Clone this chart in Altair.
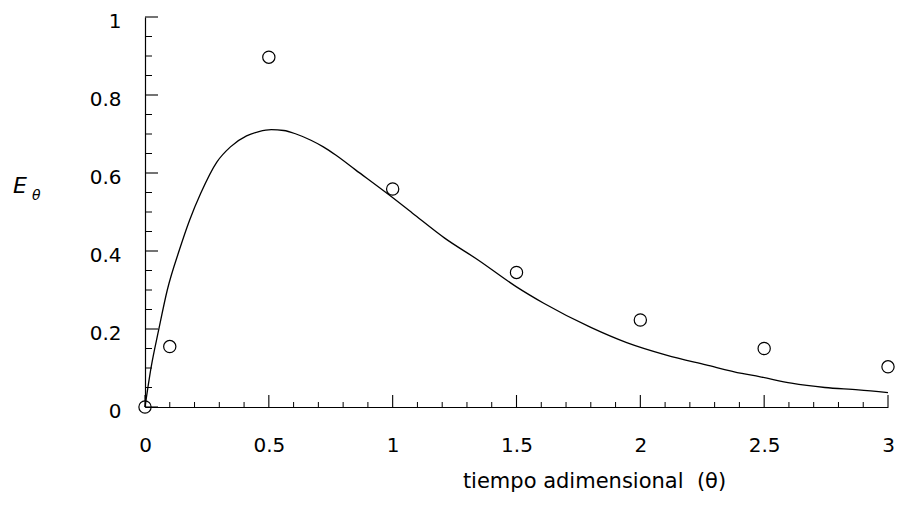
import altair as alt
import pandas as pd

# Model curve
curve_theta = [0, 0.025, 0.055, 0.09, 0.14, 0.18, 0.225, 0.29, 0.345, 0.41, 0.46, 0.51,
               0.56, 0.61, 0.67, 0.72, 0.77, 0.85, 0.985, 1.08, 1.21, 1.345, 1.5, 1.61,
               1.8, 1.945, 2.105, 2.265, 2.41, 2.48, 2.61, 2.745, 2.88, 3.0]
curve_E = [0, 0.103, 0.197, 0.30, 0.405, 0.479, 0.548, 0.628, 0.667, 0.695, 0.706, 0.711,
           0.709, 0.700, 0.684, 0.667, 0.646, 0.608, 0.544, 0.497, 0.433, 0.377, 0.308, 0.266,
           0.204, 0.165, 0.133, 0.108, 0.086, 0.078, 0.061, 0.050, 0.044, 0.037]

# Experimental points
pts_theta = [0, 0.1, 0.5, 1.0, 1.5, 2.0, 2.5, 3.0]
pts_E = [0, 0.155, 0.897, 0.559, 0.345, 0.223, 0.150, 0.103]

# Tick values
x_major = [0, 0.5, 1, 1.5, 2, 2.5, 3]
x_minor = [0.1, 0.2, 0.3, 0.4, 0.6, 0.7, 0.8, 0.9, 1.1, 1.2, 1.3, 1.4, 1.6, 1.7, 1.8, 1.9,
           2.1, 2.2, 2.3, 2.4, 2.6, 2.7, 2.8, 2.9]
y_major = [0, 0.2, 0.4, 0.6, 0.8, 1.0]
y_minor = [0.05, 0.1, 0.15, 0.25, 0.3, 0.35, 0.45, 0.5, 0.55, 0.65, 0.7, 0.75, 0.85, 0.9, 0.95]

W, H = 743, 390
FONT = "DejaVu Sans"

xscale = alt.Scale(domain=[0, 3], nice=False, zero=False)
yscale = alt.Scale(domain=[0, 1], nice=False, zero=False)

xaxis = alt.Axis(values=x_major, format="~g", ticks=False, tickSize=0, grid=False,
                 domainColor="black", domainWidth=1.2, labelFont=FONT, labelFontSize=20,
                 labelColor="black", labelPadding=28, labelFlush=False,
                 title="tiempo adimensional \u00a0(\u03b8)", titleFont=FONT, titleFontSize=21,
                 titleFontWeight="normal", titleColor="black", titleX=449, titleY=80,
                 titleAlign="center", titleBaseline="alphabetic")
yaxis = alt.Axis(values=y_major, format="~g", ticks=False, tickSize=0, grid=False,
                 domainColor="black", domainWidth=1.2, labelFont=FONT, labelFontSize=20,
                 labelColor="black", labelPadding=24, labelOffset=4, labelFlush=False,
                 title=None)


def X(field):
    return alt.X(field, type="quantitative", scale=xscale, axis=xaxis)


def Y(field):
    return alt.Y(field, type="quantitative", scale=yscale, axis=yaxis)


curve = alt.Chart(pd.DataFrame({"theta": curve_theta, "E": curve_E})).mark_line(
    color="black", strokeWidth=1.3, interpolate="monotone"
).encode(x=X("theta"), y=Y("E"))

points = alt.Chart(pd.DataFrame({"theta": pts_theta, "E": pts_E})).mark_point(
    shape="circle", filled=False, color="black", size=150, strokeWidth=1.2, opacity=1
).encode(x=X("theta"), y=Y("E"))

xmaj = alt.Chart(pd.DataFrame({"theta": x_major})).mark_rule(color="black", strokeWidth=1.1).encode(
    x=X("theta"), y=alt.value(H), y2=alt.value(H - 12))
xmin = alt.Chart(pd.DataFrame({"theta": x_minor})).mark_rule(color="black", strokeWidth=1).encode(
    x=X("theta"), y=alt.value(H), y2=alt.value(H - 5))
ymaj = alt.Chart(pd.DataFrame({"E": y_major})).mark_rule(color="black", strokeWidth=1.1).encode(
    y=Y("E"), x=alt.value(0), x2=alt.value(13))
ymin = alt.Chart(pd.DataFrame({"E": y_minor})).mark_rule(color="black", strokeWidth=1).encode(
    y=Y("E"), x=alt.value(0), x2=alt.value(7))

e_label = alt.Chart(pd.DataFrame({"s": ["E"]})).mark_text(
    text="E", font=FONT, fontSize=22, fontStyle="italic", color="black",
    align="left", baseline="alphabetic"
).encode(x=alt.value(-132), y=alt.value(176))
theta_label = alt.Chart(pd.DataFrame({"s": ["t"]})).mark_text(
    text="\u03b8", font=FONT, fontSize=14, fontStyle="italic", color="black",
    align="left", baseline="alphabetic"
).encode(x=alt.value(-113), y=alt.value(183))

chart = alt.layer(curve, points, xmaj, xmin, ymaj, ymin, e_label, theta_label).properties(
    width=W, height=H,
    autosize=alt.AutoSizeParams(type="none"),
    padding={"left": 137, "top": 9, "right": 7, "bottom": 107},
    background="white",
).configure_view(stroke=None)

chart.save("out.html", embed_options={"renderer": "svg", "actions": False})
